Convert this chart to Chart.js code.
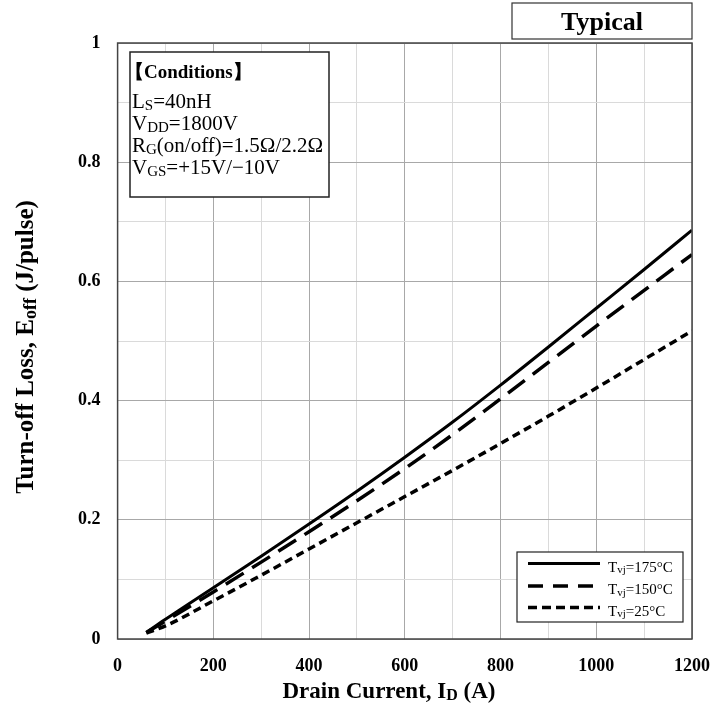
<!DOCTYPE html>
<html>
<head>
<meta charset="utf-8">
<script src="https://cdn.jsdelivr.net/npm/chart.js@4"></script>
<style>
html,body{margin:0;padding:0;background:#fff;}
#wrap{width:727px;height:706px;position:relative;}
</style>
</head>
<body>
<div id="wrap"><canvas id="c" width="727" height="706"></canvas></div>
<script>
const currents = [60,100,200,300,400,500,600,700,800,900,1000,1100,1200];
const eoff175 = [0.011,0.033,0.086,0.139,0.193,0.248,0.305,0.364,0.426,0.490,0.555,0.620,0.686];
const eoff150 = [0.011,0.030,0.079,0.129,0.180,0.232,0.286,0.343,0.403,0.464,0.525,0.585,0.645];
const eoff25  = [0.010,0.022,0.064,0.107,0.151,0.195,0.239,0.283,0.328,0.374,0.421,0.469,0.517];
const seriesNames = ['175°C','150°C','25°C'];
const conditions = [
  [{t:'L'},{t:'S',s:1},{t:'=40nH'}],
  [{t:'V'},{t:'DD',s:1},{t:'=1800V'}],
  [{t:'R'},{t:'G',s:1},{t:'(on/off)=1.5Ω/2.2Ω'}],
  [{t:'V'},{t:'GS',s:1},{t:'=+15V/−10V'}]
];
const SERIF = "'Liberation Serif','Times New Roman',serif";

function toXY(xs, ys){ return xs.map((x,i)=>({x:x,y:ys[i]})); }

function drawRich(ctx, parts, x, y, size, bold, align){
  const fontOf = (p)=> (bold?'bold ':'') + (p.s? Math.round(size*0.7):size) + 'px ' + SERIF;
  const w = parts.map(p=>{ ctx.font = fontOf(p); return ctx.measureText(p.t).width; });
  const total = w.reduce((a,b)=>a+b,0);
  let cx = align==='center' ? x - total/2 : (align==='right'? x-total : x);
  parts.forEach((p,i)=>{
    ctx.font = fontOf(p);
    ctx.textAlign='left';
    ctx.textBaseline='alphabetic';
    ctx.fillText(p.t, cx, y + (p.s? size*0.1:0));
    cx += w[i];
  });
}

const overlay = {
  id:'overlay',
  afterDraw(chart){
    const ctx = chart.ctx;
    const ca = chart.chartArea;
    ctx.save();
    ctx.fillStyle='#000';
    // plot border
    ctx.strokeStyle='#444'; ctx.lineWidth=1.5;
    ctx.strokeRect(ca.left, ca.top, ca.right-ca.left, ca.bottom-ca.top);
    // Typical box
    ctx.fillStyle='#fff'; ctx.fillRect(512,3,180,36);
    ctx.strokeStyle='#333'; ctx.lineWidth=1.2; ctx.strokeRect(512,3,180,36);
    ctx.fillStyle='#000';
    ctx.font='bold 26px '+SERIF; ctx.textAlign='center'; ctx.textBaseline='alphabetic';
    ctx.fillText('Typical', 602, 30);
    // Conditions box
    ctx.fillStyle='#fff'; ctx.fillRect(130,52,199,145);
    ctx.strokeStyle='#222'; ctx.lineWidth=1.5; ctx.strokeRect(130,52,199,145);
    ctx.fillStyle='#000';
    drawRich(ctx,[{t:'【Conditions】'}],125,78,19,true,'left');
    conditions.forEach((line,i)=>drawRich(ctx,line,132,108+i*22,21,false,'left'));
    // Legend box
    ctx.fillStyle='#fff'; ctx.fillRect(517,552,166,70);
    ctx.strokeStyle='#222'; ctx.lineWidth=1.2; ctx.strokeRect(517,552,166,70);
    const legDash = [[],[15,10],[9,5]];
    const rows = [563.5,586,607.5];
    chart.data.datasets.forEach((ds,i)=>{
      const yy = rows[i];
      ctx.strokeStyle='#000'; ctx.lineWidth=ds.borderWidth;
      ctx.setLineDash(legDash[i]); ctx.lineCap='butt';
      ctx.beginPath(); ctx.moveTo(528,yy); ctx.lineTo(600,yy); ctx.stroke();
      ctx.setLineDash([]);
      ctx.fillStyle='#000';
      drawRich(ctx,[{t:'T'},{t:'vj',s:1},{t:'='+seriesNames[i]}],608,yy+8,15,false,'left');
    });
    // X title
    drawRich(ctx,[{t:'Drain Current, I'},{t:'D',s:1},{t:' (A)'}],389,698,23,true,'center');
    // Y title
    ctx.save();
    ctx.translate(33,347); ctx.rotate(-Math.PI/2);
    drawRich(ctx,[{t:'Turn-off Loss, E'},{t:'off',s:1},{t:' (J/pulse)'}],0,0,25,true,'center');
    ctx.restore();
    ctx.restore();
  }
};

const gridColor = (major)=> major ? '#a8a8a8' : '#dadada';

new Chart(document.getElementById('c'),{
  type:'line',
  data:{
    datasets:[
      {label:'Tvj=175°C', data:toXY(currents,eoff175), borderColor:'#000', borderWidth:3, pointRadius:0, cubicInterpolationMode:'monotone', fill:false},
      {label:'Tvj=150°C', data:toXY(currents,eoff150), borderColor:'#000', borderWidth:3.5, borderDash:[21,10], pointRadius:0, cubicInterpolationMode:'monotone', fill:false},
      {label:'Tvj=25°C', data:toXY(currents,eoff25), borderColor:'#000', borderWidth:3.5, borderDash:[8,5], pointRadius:0, cubicInterpolationMode:'monotone', fill:false}
    ]
  },
  options:{
    responsive:false,
    animation:false,
    devicePixelRatio:1,
    layout:{padding:{left:0,top:43,right:34,bottom:0}},
    plugins:{legend:{display:false},tooltip:{enabled:false}},
    scales:{
      x:{
        type:'linear', min:0, max:1200,
        ticks:{stepSize:100, color:'#000', padding:17, maxRotation:0, autoSkip:false,
          font:{family:SERIF, size:18, weight:'bold'},
          callback:(v)=> (Math.round(v)%200===0)? String(Math.round(v)) : ''},
        grid:{color:(c)=>gridColor(Math.round(c.tick.value)%200===0), lineWidth:1, drawTicks:false},
        border:{display:false},
        afterFit:(s)=>{s.height=67;}
      },
      y:{
        type:'linear', min:0, max:1,
        ticks:{stepSize:0.1, color:'#000', padding:17, autoSkip:false,
          font:{family:SERIF, size:18, weight:'bold'},
          callback:(v)=>{const k=Math.round(v*10); return k%2===0 ? String(+(k/10).toFixed(1)) : '';}},
        grid:{color:(c)=>gridColor(Math.round(c.tick.value*10)%2===0), lineWidth:1, drawTicks:false},
        border:{display:false},
        afterFit:(s)=>{s.width=117.6;}
      }
    }
  },
  plugins:[overlay]
});
</script>
</body>
</html>
